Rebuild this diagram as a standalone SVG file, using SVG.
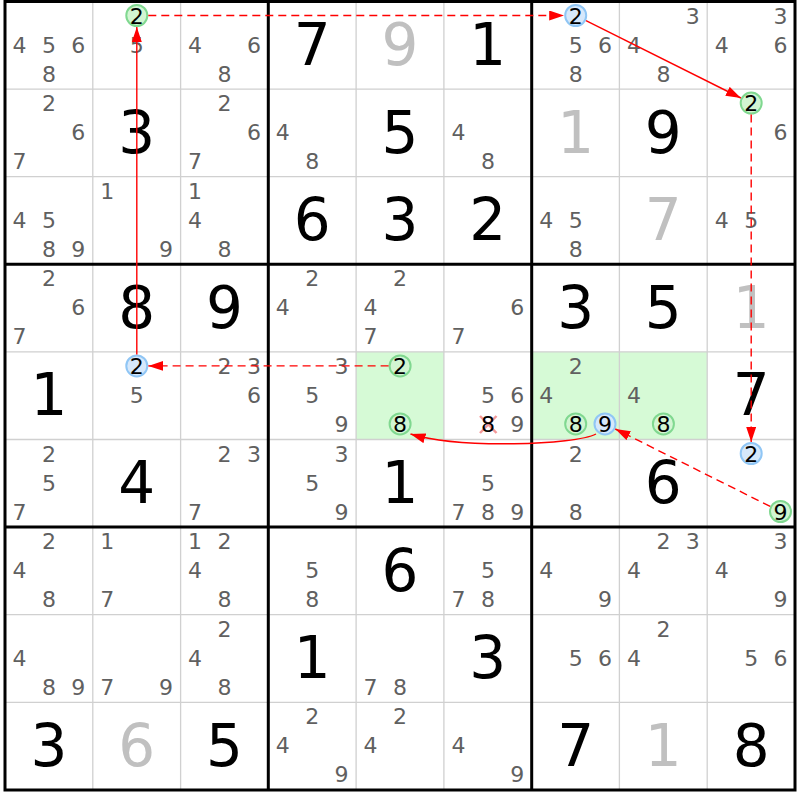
<svg xmlns="http://www.w3.org/2000/svg" width="800" height="800" viewBox="0 0 800 800">
<style>
text{font-family:"DejaVu Sans","Verdana",sans-serif;text-anchor:middle}
.c{font-size:22px;fill:#606060}
.k{font-size:22px;fill:#000}
.g{font-size:58px;fill:#000}
.s{font-size:58px;fill:#c0c0c0}
.cg{fill:#d2f5d2;stroke:#80d890;stroke-width:2}
.cb{fill:#d6e8fb;stroke:#90c6f5;stroke-width:2}
.hl{fill:#d6fad6}
.thin{stroke:#d0d0d0;stroke-width:1.3}
.thick{stroke:#000;stroke-width:3}
.ln{fill:none;stroke:#ff0000;stroke-width:1.4;marker-end:url(#ah)}
.ds{stroke-dasharray:8 5}
.x{stroke:#f08080;stroke-width:2.5;stroke-opacity:0.8}
</style>
<defs>
<marker id="ah" markerUnits="userSpaceOnUse" markerWidth="15" markerHeight="10" refX="15" refY="5" orient="auto" viewBox="0 0 15 10"><path d="M0,0 L15,5 L0,10 z" fill="#ff0000"/></marker>
</defs>
<rect x="0" y="0" width="800" height="800" fill="#fff"/>
<g id="highlights">
<rect class="hl" x="356.1" y="351.9" width="87.8" height="87.6"/>
<rect class="hl" x="531.7" y="351.9" width="175.5" height="87.6"/>
</g>
<g id="grid">
<path class="thin" d="M92.8 1.5V790M180.6 1.5V790M356.1 1.5V790M443.9 1.5V790M619.4 1.5V790M707.2 1.5V790M5 89.1H795M5 176.7H795M5 351.9H795M5 439.5H795M5 614.7H795M5 702.3H795"/>
<path class="thick" d="M268.3 1.5V790M531.7 1.5V790M5 264.3H795M5 527.1H795"/>
<rect class="thick" x="5" y="1.5" width="790" height="788.5" fill="none"/>
</g>
<g id="r1c1"><text class="c" x="19.5" y="52.5">4</text><text class="c" x="49" y="52.5">5</text><text class="c" x="78.3" y="52.5">6</text><text class="c" x="49" y="81.5">8</text></g>
<g id="r1c2"><circle class="cg" cx="136.8" cy="15.5" r="10.5"/><text class="k" x="136.8" y="23.5">2</text><text class="c" x="136.8" y="52.5">5</text></g>
<g id="r1c3"><text class="c" x="195.1" y="52.5">4</text><text class="c" x="253.9" y="52.5">6</text><text class="c" x="224.6" y="81.5">8</text></g>
<g id="r1c4"><text class="g" x="312.2" y="65">7</text></g>
<g id="r1c5"><text class="s" x="400" y="65">9</text></g>
<g id="r1c6"><text class="g" x="487.8" y="65">1</text></g>
<g id="r1c7"><circle class="cb" cx="575.7" cy="15.5" r="10.5"/><text class="k" x="575.7" y="23.5">2</text><text class="c" x="575.7" y="52.5">5</text><text class="c" x="605" y="52.5">6</text><text class="c" x="575.7" y="81.5">8</text></g>
<g id="r1c8"><text class="c" x="692.7" y="23.5">3</text><text class="c" x="633.9" y="52.5">4</text><text class="c" x="663.4" y="81.5">8</text></g>
<g id="r1c9"><text class="c" x="780.5" y="23.5">3</text><text class="c" x="721.7" y="52.5">4</text><text class="c" x="780.5" y="52.5">6</text></g>

<g id="r2c1"><text class="c" x="49" y="111.1">2</text><text class="c" x="78.3" y="140.1">6</text><text class="c" x="19.5" y="169.1">7</text></g>
<g id="r2c2"><text class="g" x="136.7" y="152.6">3</text></g>
<g id="r2c3"><text class="c" x="224.6" y="111.1">2</text><text class="c" x="253.9" y="140.1">6</text><text class="c" x="195.1" y="169.1">7</text></g>
<g id="r2c4"><text class="c" x="282.8" y="140.1">4</text><text class="c" x="312.3" y="169.1">8</text></g>
<g id="r2c5"><text class="g" x="400" y="152.6">5</text></g>
<g id="r2c6"><text class="c" x="458.4" y="140.1">4</text><text class="c" x="487.9" y="169.1">8</text></g>
<g id="r2c7"><text class="s" x="575.6" y="152.6">1</text></g>
<g id="r2c8"><text class="g" x="663.3" y="152.6">9</text></g>
<g id="r2c9"><circle class="cg" cx="751.2" cy="103.1" r="10.5"/><text class="k" x="751.2" y="111.1">2</text><text class="c" x="780.5" y="140.1">6</text></g>

<g id="r3c1"><text class="c" x="19.5" y="227.7">4</text><text class="c" x="49" y="227.7">5</text><text class="c" x="49" y="256.7">8</text><text class="c" x="78.3" y="256.7">9</text></g>
<g id="r3c2"><text class="c" x="107.3" y="198.7">1</text><text class="c" x="166.1" y="256.7">9</text></g>
<g id="r3c3"><text class="c" x="195.1" y="198.7">1</text><text class="c" x="195.1" y="227.7">4</text><text class="c" x="224.6" y="256.7">8</text></g>
<g id="r3c4"><text class="g" x="312.2" y="240.2">6</text></g>
<g id="r3c5"><text class="g" x="400" y="240.2">3</text></g>
<g id="r3c6"><text class="g" x="487.8" y="240.2">2</text></g>
<g id="r3c7"><text class="c" x="546.2" y="227.7">4</text><text class="c" x="575.7" y="227.7">5</text><text class="c" x="575.7" y="256.7">8</text></g>
<g id="r3c8"><text class="s" x="663.3" y="240.2">7</text></g>
<g id="r3c9"><text class="c" x="721.7" y="227.7">4</text><text class="c" x="751.2" y="227.7">5</text></g>

<g id="r4c1"><text class="c" x="49" y="286.3">2</text><text class="c" x="78.3" y="315.3">6</text><text class="c" x="19.5" y="344.3">7</text></g>
<g id="r4c2"><text class="g" x="136.7" y="327.8">8</text></g>
<g id="r4c3"><text class="g" x="224.5" y="327.8">9</text></g>
<g id="r4c4"><text class="c" x="312.3" y="286.3">2</text><text class="c" x="282.8" y="315.3">4</text></g>
<g id="r4c5"><text class="c" x="400.1" y="286.3">2</text><text class="c" x="370.6" y="315.3">4</text><text class="c" x="370.6" y="344.3">7</text></g>
<g id="r4c6"><text class="c" x="517.2" y="315.3">6</text><text class="c" x="458.4" y="344.3">7</text></g>
<g id="r4c7"><text class="g" x="575.6" y="327.8">3</text></g>
<g id="r4c8"><text class="g" x="663.3" y="327.8">5</text></g>
<g id="r4c9"><text class="s" x="751.1" y="327.8">1</text></g>

<g id="r5c1"><text class="g" x="48.9" y="415.4">1</text></g>
<g id="r5c2"><circle class="cb" cx="136.8" cy="365.9" r="10.5"/><text class="k" x="136.8" y="373.9">2</text><text class="c" x="136.8" y="402.9">5</text></g>
<g id="r5c3"><text class="c" x="224.6" y="373.9">2</text><text class="c" x="253.9" y="373.9">3</text><text class="c" x="253.9" y="402.9">6</text></g>
<g id="r5c4"><text class="c" x="341.6" y="373.9">3</text><text class="c" x="312.3" y="402.9">5</text><text class="c" x="341.6" y="431.9">9</text></g>
<g id="r5c5"><circle class="cg" cx="400.1" cy="365.9" r="10.5"/><text class="k" x="400.1" y="373.9">2</text><circle class="cg" cx="400.1" cy="423.9" r="10.5"/><text class="k" x="400.1" y="431.9">8</text></g>
<g id="r5c6"><text class="c" x="487.9" y="402.9">5</text><text class="c" x="517.2" y="402.9">6</text><path class="x" d="M480 416L496.5 433M480 433L496.5 416"/><text class="k" x="487.9" y="431.9">8</text><text class="c" x="517.2" y="431.9">9</text></g>
<g id="r5c7"><text class="c" x="575.7" y="373.9">2</text><text class="c" x="546.2" y="402.9">4</text><circle class="cg" cx="575.7" cy="423.9" r="10.5"/><text class="k" x="575.7" y="431.9">8</text><circle class="cb" cx="605" cy="423.9" r="10.5"/><text class="k" x="605" y="431.9">9</text></g>
<g id="r5c8"><text class="c" x="633.9" y="402.9">4</text><circle class="cg" cx="663.4" cy="423.9" r="10.5"/><text class="k" x="663.4" y="431.9">8</text></g>
<g id="r5c9"><text class="g" x="751.1" y="415.4">7</text></g>

<g id="r6c1"><text class="c" x="49" y="461.5">2</text><text class="c" x="49" y="490.5">5</text><text class="c" x="19.5" y="519.5">7</text></g>
<g id="r6c2"><text class="g" x="136.7" y="503">4</text></g>
<g id="r6c3"><text class="c" x="224.6" y="461.5">2</text><text class="c" x="253.9" y="461.5">3</text><text class="c" x="195.1" y="519.5">7</text></g>
<g id="r6c4"><text class="c" x="341.6" y="461.5">3</text><text class="c" x="312.3" y="490.5">5</text><text class="c" x="341.6" y="519.5">9</text></g>
<g id="r6c5"><text class="g" x="400" y="503">1</text></g>
<g id="r6c6"><text class="c" x="487.9" y="490.5">5</text><text class="c" x="458.4" y="519.5">7</text><text class="c" x="487.9" y="519.5">8</text><text class="c" x="517.2" y="519.5">9</text></g>
<g id="r6c7"><text class="c" x="575.7" y="461.5">2</text><text class="c" x="575.7" y="519.5">8</text></g>
<g id="r6c8"><text class="g" x="663.3" y="503">6</text></g>
<g id="r6c9"><circle class="cb" cx="751.2" cy="453.5" r="10.5"/><text class="k" x="751.2" y="461.5">2</text><circle class="cg" cx="780.5" cy="511.5" r="10.5"/><text class="k" x="780.5" y="519.5">9</text></g>

<g id="r7c1"><text class="c" x="49" y="549.1">2</text><text class="c" x="19.5" y="578.1">4</text><text class="c" x="49" y="607.1">8</text></g>
<g id="r7c2"><text class="c" x="107.3" y="549.1">1</text><text class="c" x="107.3" y="607.1">7</text></g>
<g id="r7c3"><text class="c" x="195.1" y="549.1">1</text><text class="c" x="224.6" y="549.1">2</text><text class="c" x="195.1" y="578.1">4</text><text class="c" x="224.6" y="607.1">8</text></g>
<g id="r7c4"><text class="c" x="312.3" y="578.1">5</text><text class="c" x="312.3" y="607.1">8</text></g>
<g id="r7c5"><text class="g" x="400" y="590.6">6</text></g>
<g id="r7c6"><text class="c" x="487.9" y="578.1">5</text><text class="c" x="458.4" y="607.1">7</text><text class="c" x="487.9" y="607.1">8</text></g>
<g id="r7c7"><text class="c" x="546.2" y="578.1">4</text><text class="c" x="605" y="607.1">9</text></g>
<g id="r7c8"><text class="c" x="663.4" y="549.1">2</text><text class="c" x="692.7" y="549.1">3</text><text class="c" x="633.9" y="578.1">4</text></g>
<g id="r7c9"><text class="c" x="780.5" y="549.1">3</text><text class="c" x="721.7" y="578.1">4</text><text class="c" x="780.5" y="607.1">9</text></g>

<g id="r8c1"><text class="c" x="19.5" y="665.7">4</text><text class="c" x="49" y="694.7">8</text><text class="c" x="78.3" y="694.7">9</text></g>
<g id="r8c2"><text class="c" x="107.3" y="694.7">7</text><text class="c" x="166.1" y="694.7">9</text></g>
<g id="r8c3"><text class="c" x="224.6" y="636.7">2</text><text class="c" x="195.1" y="665.7">4</text><text class="c" x="224.6" y="694.7">8</text></g>
<g id="r8c4"><text class="g" x="312.2" y="678.2">1</text></g>
<g id="r8c5"><text class="c" x="370.6" y="694.7">7</text><text class="c" x="400.1" y="694.7">8</text></g>
<g id="r8c6"><text class="g" x="487.8" y="678.2">3</text></g>
<g id="r8c7"><text class="c" x="575.7" y="665.7">5</text><text class="c" x="605" y="665.7">6</text></g>
<g id="r8c8"><text class="c" x="663.4" y="636.7">2</text><text class="c" x="633.9" y="665.7">4</text></g>
<g id="r8c9"><text class="c" x="751.2" y="665.7">5</text><text class="c" x="780.5" y="665.7">6</text></g>

<g id="r9c1"><text class="g" x="48.9" y="765.8">3</text></g>
<g id="r9c2"><text class="s" x="136.7" y="765.8">6</text></g>
<g id="r9c3"><text class="g" x="224.5" y="765.8">5</text></g>
<g id="r9c4"><text class="c" x="312.3" y="724.3">2</text><text class="c" x="282.8" y="753.3">4</text><text class="c" x="341.6" y="782.3">9</text></g>
<g id="r9c5"><text class="c" x="400.1" y="724.3">2</text><text class="c" x="370.6" y="753.3">4</text></g>
<g id="r9c6"><text class="c" x="458.4" y="753.3">4</text><text class="c" x="517.2" y="782.3">9</text></g>
<g id="r9c7"><text class="g" x="575.6" y="765.8">7</text></g>
<g id="r9c8"><text class="s" x="663.3" y="765.8">1</text></g>
<g id="r9c9"><text class="g" x="751.1" y="765.8">8</text></g>

<g id="connectors">
<path class="ln" d="M136.8 354.5V27"/>
<path class="ln ds" d="M148.3 15.5H564.2"/>
<path class="ln" d="M586 20.6L740.9 98"/>
<path class="ln ds" d="M751.2 114.6V442"/>
<path class="ln ds" d="M770.2 506.4L615.3 429"/>
<path class="ln" d="M596 434C575 445 460 449 410.5 434"/>
<path class="ln ds" d="M388.6 365.9H148.3"/>
</g>
</svg>
